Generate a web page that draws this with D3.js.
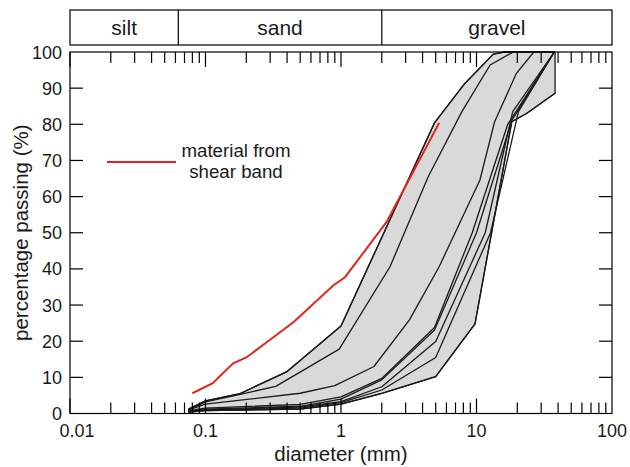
<!DOCTYPE html>
<html>
<head>
<meta charset="utf-8">
<script src="https://cdn.jsdelivr.net/npm/d3@7"></script>
<style>
  html, body { margin: 0; padding: 0; background: #fff; }
  svg { display: block; font-family: "Liberation Sans", Arial, Helvetica, sans-serif; }
</style>
</head>
<body>
<svg id="chart" width="630" height="467"></svg>
<script>
// Grain-size classes shown in the band above the plot
const soilClasses = ["silt", "sand", "gravel"];
const classBounds = [0.01, 0.063, 2, 100];

// Axis tick labels
const xTickValues = [0.01, 0.1, 1, 10, 100];
const yTickValues = [0, 10, 20, 30, 40, 50, 60, 70, 80, 90, 100];

// Grading curves of the reference samples: [diameter mm, % passing]
const grading1 = [[0.075, 1.2], [0.1, 3.5], [0.18, 5.5], [0.4, 11.6], [1.0, 24.2], [4.88, 80.3], [8.2, 91.3], [13.3, 99.4], [16, 100], [38, 100]];
const grading2 = [[0.075, 1.0], [0.1, 3.2], [0.18, 5.3], [0.33, 7.5], [0.97, 17.8], [2.3, 40.6], [4.4, 65.5], [7.8, 83.5], [12.6, 96.4], [18.7, 100]];
const grading3 = [[0.075, 1.0], [0.1, 2.6], [0.5, 5.6], [0.9, 7.7], [1.75, 13], [3.2, 25.9], [5.3, 40.6], [10.6, 64.6], [13.6, 80.7], [19.7, 94.1], [26.5, 100]];
const grading4 = [[0.075, 0.8], [0.1, 1.5], [0.5, 2.5], [1, 4.6], [2, 9.7], [4.9, 23.8], [9.3, 50], [17, 80], [37.5, 100]];
const grading5 = [[0.075, 0.6], [0.1, 1.2], [0.5, 2.0], [1, 4.0], [2, 9.3], [4.9, 23.1], [10, 50], [18.2, 81], [37.5, 100]];
const grading6 = [[0.075, 0.5], [0.1, 1.0], [0.5, 1.8], [1, 3.3], [2, 7.4], [5, 19.9], [11.6, 50], [18.5, 83.5], [37.5, 100]];
const grading7 = [[0.075, 0.5], [0.1, 0.9], [0.5, 1.5], [1, 3.0], [2, 6.5], [5, 15.5], [12.7, 50], [20.4, 83.5], [37.5, 100]];
const grading8 = [[0.075, 0.4], [0.1, 0.8], [0.5, 1.2], [1, 2.6], [2, 5.6], [5, 10.2], [9.75, 24.8], [18.2, 80.7], [23.4, 83], [38, 88.6]];

// Material sampled from the shear band
const shearBand = [[0.08, 5.6], [0.113, 8.4], [0.16, 13.9], [0.2, 15.5], [0.45, 25.4], [0.88, 35.5], [1.07, 37.7], [2.17, 53], [5.3, 80.4]];

const gradings = [grading1, grading2, grading3, grading4, grading5, grading6, grading7, grading8];
const upperBound = grading1;
const lowerBound = grading8;

const svg = d3.select("#chart");
const plotLeft = 70, plotRight = 612, plotTop = 52, plotBottom = 413.5;

const x = d3.scaleLog().domain([0.01, 100]).range([plotLeft, plotRight]);
const y = d3.scaleLinear().domain([0, 100]).range([plotBottom, plotTop]);

const line = d3.line().x(d => x(d[0])).y(d => y(d[1]));

// Envelope of all grading curves
const envelope = upperBound.concat(lowerBound.slice().reverse());
svg.append("path")
  .attr("d", line(envelope) + "Z")
  .attr("fill", "#d9d9d9")
  .attr("stroke", "#1a1a1a")
  .attr("stroke-width", 1.3)
  .attr("stroke-linejoin", "round");

// Individual grading curves
svg.append("g").selectAll("path").data(gradings).join("path")
  .attr("d", line)
  .attr("fill", "none")
  .attr("stroke", "#1a1a1a")
  .attr("stroke-width", 1.3)
  .attr("stroke-linejoin", "round");

// Shear band sample
svg.append("path")
  .attr("d", line(shearBand))
  .attr("fill", "none")
  .attr("stroke", "#e0261c")
  .attr("stroke-width", 2);

// Plot frame
svg.append("rect")
  .attr("x", plotLeft).attr("y", plotTop)
  .attr("width", plotRight - plotLeft).attr("height", plotBottom - plotTop)
  .attr("fill", "none").attr("stroke", "#000").attr("stroke-width", 1.2);

// Log ticks on bottom and top edges (inward)
const logTicks = [];
for (let e = -2; e < 2; e++) {
  for (let m = 1; m <= 9; m++) logTicks.push({ v: m * Math.pow(10, e), major: m === 1 });
}
const tickG = svg.append("g").attr("stroke", "#000").attr("stroke-width", 1.2);
logTicks.forEach(t => {
  const len = t.major ? 15 : 11;
  const px = x(t.v);
  tickG.append("line").attr("x1", px).attr("x2", px).attr("y1", plotBottom).attr("y2", plotBottom - len);
  tickG.append("line").attr("x1", px).attr("x2", px).attr("y1", plotTop).attr("y2", plotTop + len);
});

// Percentage ticks on left and right edges (inward)
yTickValues.filter(v => v > 0 && v < 100).forEach(v => {
  const py = y(v);
  tickG.append("line").attr("x1", plotLeft).attr("x2", plotLeft + 13).attr("y1", py).attr("y2", py);
  tickG.append("line").attr("x1", plotRight).attr("x2", plotRight - 13).attr("y1", py).attr("y2", py);
});

// Axis tick labels (the first one nudged right, clear of the "0")
svg.append("g").selectAll("text").data(xTickValues).join("text")
  .attr("x", (d, i) => x(d) + (i === 0 ? 7 : 0)).attr("y", 437)
  .attr("text-anchor", "middle")
  .attr("font-size", 18).attr("fill", "#1a1a1a")
  .text(d => d);

svg.append("g").selectAll("text").data(yTickValues).join("text")
  .attr("x", 62).attr("y", d => y(d) + 6.5)
  .attr("text-anchor", "end")
  .attr("font-size", 18).attr("fill", "#1a1a1a")
  .text(d => d);

// Axis titles
svg.append("text")
  .attr("x", (plotLeft + plotRight) / 2).attr("y", 460.5)
  .attr("text-anchor", "middle")
  .attr("font-size", 20.5).attr("fill", "#1a1a1a")
  .text("diameter (mm)");

svg.append("text")
  .attr("transform", `translate(28,${(plotTop + plotBottom) / 2}) rotate(-90)`)
  .attr("text-anchor", "middle")
  .attr("font-size", 20.5).attr("fill", "#1a1a1a")
  .text("percentage passing (%)");

// Soil class band
const bandTop = 10, bandBottom = 45;
svg.append("rect")
  .attr("x", plotLeft).attr("y", bandTop)
  .attr("width", plotRight - plotLeft).attr("height", bandBottom - bandTop)
  .attr("fill", "none").attr("stroke", "#000").attr("stroke-width", 1.2);
classBounds.slice(1, -1).forEach(b => {
  svg.append("line")
    .attr("x1", x(b)).attr("x2", x(b)).attr("y1", bandTop).attr("y2", bandBottom)
    .attr("stroke", "#000").attr("stroke-width", 1.2);
});
svg.append("g").selectAll("text").data(soilClasses).join("text")
  .attr("x", (d, i) => (x(classBounds[i]) + x(classBounds[i + 1])) / 2)
  .attr("y", 35)
  .attr("text-anchor", "middle")
  .attr("font-size", 21).attr("fill", "#1a1a1a")
  .text(d => d);

// Legend
svg.append("line")
  .attr("x1", 107).attr("x2", 176).attr("y1", 162).attr("y2", 162)
  .attr("stroke", "#e0261c").attr("stroke-width", 2);
const legendText = svg.append("text")
  .attr("text-anchor", "middle")
  .attr("font-size", 18.7).attr("fill", "#1a1a1a");
legendText.append("tspan").attr("x", 236).attr("y", 157).text("material from");
legendText.append("tspan").attr("x", 236).attr("y", 178).text("shear band");
</script>
</body>
</html>
